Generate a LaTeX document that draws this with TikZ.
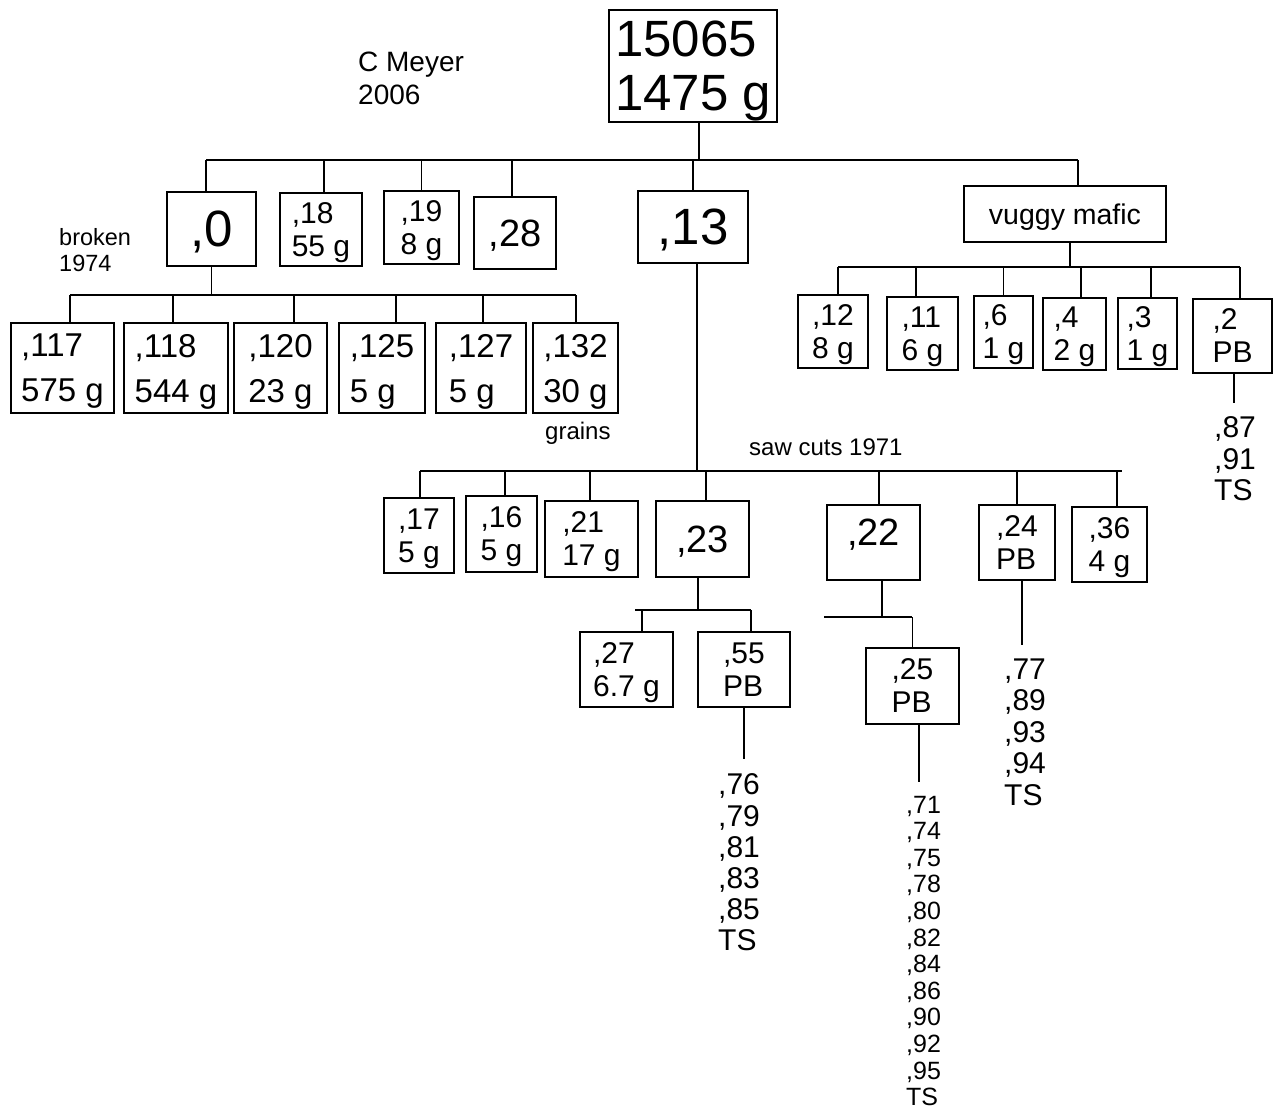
\documentclass[tikz,border=0pt]{standalone}
\usepackage{fontspec}
\setmainfont{Liberation Sans}

\tikzset{
  box/.style={draw, rectangle, line width=1.6pt, inner sep=0pt, align=left, text depth=0pt},
  link/.style={line width=1.6pt},
  hugetext/.style={font=\fontsize{51}{54}\selectfont},
  bigtext/.style={font=\fontsize{38}{40}\selectfont},
  midtext/.style={font=\fontsize{33}{45}\selectfont},
  normtext/.style={font=\fontsize{30}{33}\selectfont},
  note/.style={inner sep=0pt, align=left, anchor=west},
}

\begin{document}
\begin{tikzpicture}[x=1pt, y=-1pt]
\useasboundingbox (0,0) rectangle (1275,1113);

% the whole sample
\node[box, hugetext, text depth=-4pt, minimum width=168, minimum height=112] (top) at (693,66) {15065\\1475 g};
\node[note, font=\fontsize{28}{33}\selectfont] (meyer) at (358,78) {C Meyer\\2006};

% first split
\node[box, hugetext, minimum width=89, minimum height=74] (n0) at (211.5,229) {,0};
\node[box, normtext, minimum width=82, minimum height=73] (n18) at (321,229.5) {,18\\55 g};
\node[box, normtext, minimum width=75, minimum height=73] (n19) at (421.5,227.5) {,19\\8 g};
\node[box, bigtext, minimum width=82, minimum height=72] (n28) at (515,233) {,28};
\node[box, hugetext, minimum width=110, minimum height=72] (n13) at (693,227) {,13};
\node[box, font=\fontsize{28.5}{33}\selectfont, minimum width=202, minimum height=56] (vug) at (1065,214) {vuggy mafic};

\coordinate (busA) at (206,160);
\coordinate (busAe) at (1078,160);
\draw[link] (busA) -- (busAe);
\coordinate (s) at ([xshift=6]top.south);
\draw[link] (s) -- (s |- busA);
\foreach \n/\dx in {n0/-5.5, n18/3, n19/0, n28/-3, n13/0, vug/13}{
  \coordinate (d) at ([xshift=\dx]\n.north);
  \draw[link] (d) -- (d |- busA);
}

% ,0 broken 1974
\node[note, font=\fontsize{23.5}{26}\selectfont] (broken) at (59,250) {broken\\1974};
\node[box, midtext, minimum width=103, minimum height=90] (n117) at (62.5,368) {,117\\575 g};
\node[box, midtext, minimum width=104, minimum height=90] (n118) at (176,368) {,118\\544 g};
\node[box, midtext, minimum width=93, minimum height=90] (n120) at (280.5,368) {,120\\23 g};
\node[box, midtext, minimum width=86, minimum height=90] (n125) at (382,368) {,125\\5 g};
\node[box, midtext, minimum width=90, minimum height=90] (n127) at (481,368) {,127\\5 g};
\node[box, midtext, minimum width=85, minimum height=90] (n132) at (575.5,368) {,132\\30 g};
\node[note, font=\fontsize{24}{26}\selectfont] (grains) at (545,433) {grains};

\coordinate (busB) at (70,295);
\coordinate (busBe) at (576,295);
\draw[link] (busB) -- (busBe);
\draw[link] (n0.south) -- (n0.south |- busB);
\foreach \n/\dx in {n117/7.5, n118/-3, n120/13.5, n125/14, n127/2, n132/0.5}{
  \coordinate (d) at ([xshift=\dx]\n.north);
  \draw[link] (d) -- (d |- busB);
}

% vuggy mafic
\node[box, normtext, minimum width=70, minimum height=73] (n12) at (833,331.5) {,12\\8 g};
\node[box, normtext, minimum width=71, minimum height=73] (n11) at (922.5,333.5) {,11\\6 g};
\node[box, normtext, minimum width=59, minimum height=72] (n6) at (1003.5,332) {,6\\1 g};
\node[box, normtext, minimum width=63, minimum height=72] (n4) at (1074.5,334) {,4\\2 g};
\node[box, normtext, minimum width=59, minimum height=71] (n3) at (1147.5,333.5) {,3\\1 g};
\node[box, normtext, minimum width=79, minimum height=74] (n2) at (1232.5,336) {,2\\PB};
\node[note, font=\fontsize{30}{31.5}\selectfont] (l2) at (1214,459) {,87\\,91\\TS};

\coordinate (busC) at (838,267);
\coordinate (busCe) at (1240,267);
\draw[link] (busC) -- (busCe);
\coordinate (s) at ([xshift=5]vug.south);
\draw[link] (s) -- (s |- busC);
\foreach \n/\dx in {n12/5, n11/-6.5, n6/0, n4/6.5, n3/3.5, n2/7.5}{
  \coordinate (d) at ([xshift=\dx]\n.north);
  \draw[link] (d) -- (d |- busC);
}
\coordinate (s) at ([xshift=1.5]n2.south);
\draw[link, shorten >=14] (s) -- (s |- l2.north);

% ,13 saw cuts 1971
\node[note, font=\fontsize{24}{26}\selectfont] (saw) at (749,447) {saw cuts 1971};
\node[box, normtext, minimum width=70, minimum height=75] (n17) at (419,535.5) {,17\\5 g};
\node[box, normtext, minimum width=71, minimum height=76] (n16) at (501.5,534) {,16\\5 g};
\node[box, normtext, minimum width=93, minimum height=76] (n21) at (591.5,539) {,21\\17 g};
\node[box, bigtext, minimum width=93, minimum height=76] (n23) at (702.5,539) {,23};
\node[box, bigtext, text depth=20pt, minimum width=93, minimum height=75] (n22) at (873.5,542.5) {,22};
\node[box, normtext, minimum width=76, minimum height=75] (n24) at (1017,542.5) {,24\\PB};
\node[box, normtext, minimum width=75, minimum height=75] (n36) at (1109.5,544.5) {,36\\4 g};

\coordinate (busD) at (420,471);
\coordinate (busDe) at (1122,471);
\draw[link] (busD) -- (busDe);
\coordinate (s) at ([xshift=4]n13.south);
\draw[link] (s) -- (s |- busD);
\foreach \n/\dx in {n17/1, n16/3.5, n21/-1.5, n23/3.5, n22/5.5, n24/0, n36/7.5}{
  \coordinate (d) at ([xshift=\dx]\n.north);
  \draw[link] (d) -- (d |- busD);
}

% ,23
\node[box, normtext, minimum width=93, minimum height=75] (n27) at (626.5,669.5) {,27\\6.7 g};
\node[box, normtext, minimum width=92, minimum height=75] (n55) at (744,669.5) {,55\\PB};
\node[note, font=\fontsize{30}{31.2}\selectfont] (l55) at (718,862.5) {,76\\,79\\,81\\,83\\,85\\TS};

\coordinate (busE) at (635,610);
\coordinate (busEe) at (751,610);
\draw[link] (busE) -- (busEe);
\coordinate (s) at ([xshift=-4.5]n23.south);
\draw[link] (s) -- (s |- busE);
\foreach \n/\dx in {n27/15.5, n55/7}{
  \coordinate (d) at ([xshift=\dx]\n.north);
  \draw[link] (d) -- (d |- busE);
}
\draw[link, shorten >=15] (n55.south) -- (n55.south |- l55.north);

% ,22
\node[box, normtext, minimum width=93, minimum height=76] (n25) at (912.5,686) {,25\\PB};
\node[note, font=\fontsize{25}{26.6}\selectfont] (l25) at (906,951) {,71\\,74\\,75\\,78\\,80\\,82\\,84\\,86\\,90\\,92\\,95\\TS};

\coordinate (busF) at (824,617);
\coordinate (busFe) at (912,617);
\draw[link] (busF) -- (busFe);
\coordinate (s) at ([xshift=8.5]n22.south);
\draw[link] (s) -- (s |- busF);
\draw[link] (n25.north |- busF) -- (n25.north);
\coordinate (s) at ([xshift=6.5]n25.south);
\draw[link, shorten >=14] (s) -- (s |- l25.north);

% ,24
\node[note, font=\fontsize{30}{31.5}\selectfont] (l24) at (1004,732) {,77\\,89\\,93\\,94\\TS};
\coordinate (s) at ([xshift=5]n24.south);
\draw[link, shorten >=13] (s) -- (s |- l24.north);
\end{tikzpicture}
\end{document}
